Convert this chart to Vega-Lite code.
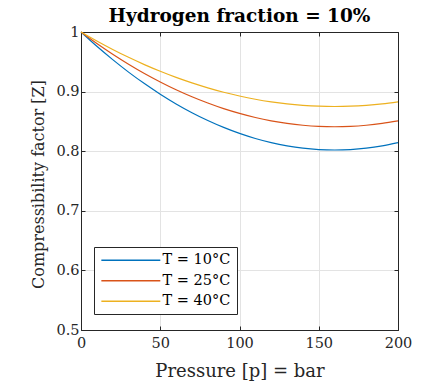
{
  "$schema": "https://vega.github.io/schema/vega-lite/v6.json",
  "width": 317,
  "height": 298,
  "autosize": {"type": "none"},
  "padding": {"left": 81, "top": 32, "right": 23, "bottom": 53},
  "background": "white",
  "config": {
    "font": "DejaVu Serif",
    "view": {"stroke": "#262626", "strokeWidth": 1},
    "axis": {"labelFont": "DejaVu Serif", "titleFont": "DejaVu Serif", "labelFlush": false},
    "legend": {"labelFont": "DejaVu Serif"}
  },
  "title": {"text": "Hydrogen fraction = 10%", "font": "DejaVu Serif", "fontSize": 18.5, "fontWeight": "bold", "offset": -1, "color": "#000"},
  "data": {"values": [
    {"p": 0, "Z": 1.0, "T": "T = 10°C"}, {"p": 10, "Z": 0.976, "T": "T = 10°C"}, {"p": 20, "Z": 0.9536, "T": "T = 10°C"}, {"p": 30, "Z": 0.9327, "T": "T = 10°C"}, {"p": 40, "Z": 0.9134, "T": "T = 10°C"}, {"p": 50, "Z": 0.8956, "T": "T = 10°C"}, {"p": 60, "Z": 0.8793, "T": "T = 10°C"}, {"p": 70, "Z": 0.8646, "T": "T = 10°C"}, {"p": 80, "Z": 0.8515, "T": "T = 10°C"}, {"p": 90, "Z": 0.8399, "T": "T = 10°C"}, {"p": 100, "Z": 0.8298, "T": "T = 10°C"}, {"p": 110, "Z": 0.8213, "T": "T = 10°C"}, {"p": 120, "Z": 0.8144, "T": "T = 10°C"}, {"p": 130, "Z": 0.809, "T": "T = 10°C"}, {"p": 140, "Z": 0.8051, "T": "T = 10°C"}, {"p": 150, "Z": 0.8028, "T": "T = 10°C"}, {"p": 160, "Z": 0.802, "T": "T = 10°C"}, {"p": 170, "Z": 0.8028, "T": "T = 10°C"}, {"p": 180, "Z": 0.8051, "T": "T = 10°C"}, {"p": 190, "Z": 0.809, "T": "T = 10°C"}, {"p": 200, "Z": 0.8144, "T": "T = 10°C"},
    {"p": 0, "Z": 1.0, "T": "T = 25°C"}, {"p": 10, "Z": 0.9807, "T": "T = 25°C"}, {"p": 20, "Z": 0.9627, "T": "T = 25°C"}, {"p": 30, "Z": 0.946, "T": "T = 25°C"}, {"p": 40, "Z": 0.9304, "T": "T = 25°C"}, {"p": 50, "Z": 0.9162, "T": "T = 25°C"}, {"p": 60, "Z": 0.9031, "T": "T = 25°C"}, {"p": 70, "Z": 0.8913, "T": "T = 25°C"}, {"p": 80, "Z": 0.8808, "T": "T = 25°C"}, {"p": 90, "Z": 0.8714, "T": "T = 25°C"}, {"p": 100, "Z": 0.8634, "T": "T = 25°C"}, {"p": 110, "Z": 0.8565, "T": "T = 25°C"}, {"p": 120, "Z": 0.8509, "T": "T = 25°C"}, {"p": 130, "Z": 0.8466, "T": "T = 25°C"}, {"p": 140, "Z": 0.8435, "T": "T = 25°C"}, {"p": 150, "Z": 0.8416, "T": "T = 25°C"}, {"p": 160, "Z": 0.841, "T": "T = 25°C"}, {"p": 170, "Z": 0.8416, "T": "T = 25°C"}, {"p": 180, "Z": 0.8435, "T": "T = 25°C"}, {"p": 190, "Z": 0.8466, "T": "T = 25°C"}, {"p": 200, "Z": 0.8509, "T": "T = 25°C"},
    {"p": 0, "Z": 1.0, "T": "T = 40°C"}, {"p": 10, "Z": 0.9849, "T": "T = 40°C"}, {"p": 20, "Z": 0.9707, "T": "T = 40°C"}, {"p": 30, "Z": 0.9575, "T": "T = 40°C"}, {"p": 40, "Z": 0.9453, "T": "T = 40°C"}, {"p": 50, "Z": 0.9341, "T": "T = 40°C"}, {"p": 60, "Z": 0.9238, "T": "T = 40°C"}, {"p": 70, "Z": 0.9146, "T": "T = 40°C"}, {"p": 80, "Z": 0.9063, "T": "T = 40°C"}, {"p": 90, "Z": 0.8989, "T": "T = 40°C"}, {"p": 100, "Z": 0.8926, "T": "T = 40°C"}, {"p": 110, "Z": 0.8872, "T": "T = 40°C"}, {"p": 120, "Z": 0.8828, "T": "T = 40°C"}, {"p": 130, "Z": 0.8794, "T": "T = 40°C"}, {"p": 140, "Z": 0.877, "T": "T = 40°C"}, {"p": 150, "Z": 0.8755, "T": "T = 40°C"}, {"p": 160, "Z": 0.875, "T": "T = 40°C"}, {"p": 170, "Z": 0.8755, "T": "T = 40°C"}, {"p": 180, "Z": 0.877, "T": "T = 40°C"}, {"p": 190, "Z": 0.8794, "T": "T = 40°C"}, {"p": 200, "Z": 0.8828, "T": "T = 40°C"}
  ]},
  "layer": [
    {
      "mark": {"type": "line", "interpolate": "monotone", "strokeWidth": 1.2},
      "encoding": {
        "x": {"field": "p", "type": "quantitative", "scale": {"domain": [0, 200], "nice": false},
          "axis": {"values": [0, 50, 100, 150, 200], "title": "Pressure [p] = bar", "titleFontSize": 18, "titleFontWeight": "normal", "titleColor": "#262626", "titlePadding": 13,
            "labelFontSize": 14.5, "labelColor": "#262626", "labelPadding": 10, "tickSize": -4, "tickColor": "#262626", "domainColor": "#262626", "gridColor": "#e3e3e3", "grid": true}},
        "y": {"field": "Z", "type": "quantitative", "scale": {"domain": [0.5, 1], "nice": false, "zero": false},
          "axis": {"values": [0.5, 0.6, 0.7, 0.8, 0.9, 1], "format": "~g", "title": "Compressibility factor [Z]", "titleFontSize": 16, "titleFontWeight": "normal", "titleColor": "#262626", "titlePadding": 9, "titleY": 152,
            "labelFontSize": 14.5, "labelColor": "#262626", "labelPadding": 6, "tickSize": -4, "tickColor": "#262626", "domainColor": "#262626", "gridColor": "#e3e3e3", "grid": true}},
        "color": {"field": "T", "type": "nominal",
          "scale": {"domain": ["T = 10°C", "T = 25°C", "T = 40°C"], "range": ["#0072BD", "#D95319", "#EDB120"]},
          "legend": {"title": null, "orient": "none", "legendX": 13, "legendY": 215, "symbolType": "M-1,0H9", "symbolSize": 139, "symbolStrokeWidth": 1.5,
            "labelFontSize": 14.5, "labelColor": "#000", "labelOffset": 48, "rowPadding": 5.5,
            "strokeColor": "#262626", "fillColor": "white", "padding": 6}}
      }
    },
    {
      "mark": {"type": "line", "opacity": 0},
      "encoding": {
        "x": {"field": "p", "type": "quantitative", "axis": {"orient": "top", "values": [0, 50, 100, 150, 200], "labels": false, "title": null, "grid": false, "tickSize": -4, "tickColor": "#262626", "domainColor": "#262626"}},
        "y": {"field": "Z", "type": "quantitative", "axis": {"orient": "right", "values": [0.5, 0.6, 0.7, 0.8, 0.9, 1], "labels": false, "title": null, "grid": false, "tickSize": -4, "tickColor": "#262626", "domainColor": "#262626"}},
        "detail": {"field": "T"}
      }
    }
  ],
  "resolve": {"axis": {"x": "independent", "y": "independent"}}
}
